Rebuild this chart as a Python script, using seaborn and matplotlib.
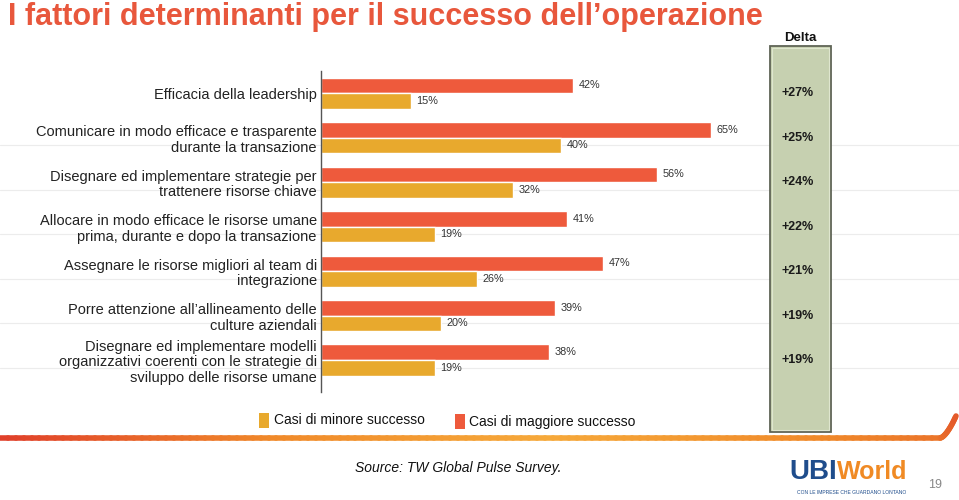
import numpy as np
import pandas as pd
import matplotlib
matplotlib.use("Agg")
import matplotlib.pyplot as plt
import matplotlib.transforms as mtransforms
from matplotlib.patches import Rectangle
from matplotlib.collections import LineCollection
import seaborn as sns

# Chart data
fattori = [
    "Efficacia della leadership",
    "Comunicare in modo efficace e trasparente\ndurante la transazione",
    "Disegnare ed implementare strategie per\ntrattenere risorse chiave",
    "Allocare in modo efficace le risorse umane\nprima, durante e dopo la transazione",
    "Assegnare le risorse migliori al team di\nintegrazione",
    "Porre attenzione all\u2019allineamento delle\nculture aziendali",
    "Disegnare ed implementare modelli\norganizzativi coerenti con le strategie di\nsviluppo delle risorse umane",
]
minore = [15, 40, 32, 19, 26, 20, 19]
maggiore = [42, 65, 56, 41, 47, 39, 38]
delta = [27, 25, 24, 22, 21, 19, 19]

lab_minore = "Casi di minore successo"
lab_maggiore = "Casi di maggiore successo"

RED = "#ee5a3c"
YELLOW = "#e8a92d"

sns.set_style("white")
plt.rcParams["font.family"] = ["Liberation Sans", "DejaVu Sans"]

# Long-form table for seaborn
df = pd.DataFrame({
    "fattore": fattori * 2,
    "valore": maggiore + minore,
    "gruppo": [lab_maggiore] * len(fattori) + [lab_minore] * len(fattori),
})

W, H = 959, 500
fig = plt.figure(figsize=(W / 100, H / 100), dpi=100)

def px(x0, y0, x1, y1):
    # pixel box (top-left origin) -> figure fraction rect
    return [x0 / W, 1 - y1 / H, (x1 - x0) / W, (y1 - y0) / H]

ax = fig.add_axes(px(321, 71, 959, 392))

sns.barplot(data=df, y="fattore", x="valore", hue="gruppo",
            hue_order=[lab_maggiore, lab_minore],
            palette=[RED, YELLOW], orient="h", width=0.7,
            saturation=1, legend=False, ax=ax, zorder=3)

for cont in ax.containers:
    ax.bar_label(cont, fmt="%d%%", padding=4, fontsize=7.8, color="#333333")

ax.set_xlim(0, 106.3)
ax.set_ylim(6.72, -0.5)
ax.set_xlabel("")
ax.set_ylabel("")
ax.set_xticks([])
ax.tick_params(axis="y", length=0, pad=3, labelsize=10.5, labelcolor="#222222")
for lbl in ax.get_yticklabels():
    lbl.set_linespacing(1.15)
for s in ["top", "right", "bottom"]:
    ax.spines[s].set_visible(False)
ax.spines["left"].set_color("#555555")
ax.spines["left"].set_linewidth(1.0)
ax.spines["left"].set_zorder(5)

# light row separators running across the whole slide
left_ext = -321 / 638
for i in range(1, len(fattori)):
    ax.axhline(i + 0.175, xmin=left_ext, xmax=1, color="#ececec",
               lw=0.8, zorder=0, clip_on=False)

# Delta column
fig.patches.append(Rectangle((770 / W, 1 - 432 / H), 61 / W, 386 / H,
                             transform=fig.transFigure, facecolor="#c6d0b0",
                             edgecolor="#5f6456", lw=1.3, zorder=5))
fig.patches.append(Rectangle((772 / W, 1 - 430 / H), 57 / W, 382 / H,
                             transform=fig.transFigure, facecolor="none",
                             edgecolor="#dfe6cf", lw=0.8, zorder=5))
fig.text(800 / W, 1 - 38 / H, "Delta", ha="center", va="center",
         fontsize=9.5, fontweight="bold", color="#111111", zorder=6)
tr = mtransforms.blended_transform_factory(fig.transFigure, ax.transData)
for i, d in enumerate(delta):
    fig.text(798 / W, i, f"+{d}%", transform=tr, ha="center", va="center",
             fontsize=9, fontweight="bold", color="#1a1a1a", zorder=7)

# Title
fig.text(8 / W, 1 - 17 / H, "I fattori determinanti per il successo dell\u2019operazione",
         ha="left", va="center", fontsize=22, fontweight="bold", color="#e8573c")

# Legend
fig.patches.append(Rectangle((259 / W, 1 - 428 / H), 10 / W, 15 / H,
                             transform=fig.transFigure, facecolor=YELLOW, lw=0))
fig.text(274 / W, 1 - 420 / H, lab_minore, ha="left", va="center",
         fontsize=10, color="#111111")
fig.patches.append(Rectangle((455 / W, 1 - 429 / H), 10 / W, 15 / H,
                             transform=fig.transFigure, facecolor=RED, lw=0))
fig.text(469 / W, 1 - 422 / H, lab_maggiore, ha="left", va="center",
         fontsize=10, color="#111111")

# orange swoosh at the bottom
t = np.linspace(0, 1, 120)
xs = 0 + 940 * t
ys = np.full_like(t, 438.0)
tail = np.linspace(0, 1, 20)
xs = np.concatenate([xs, 940 + 16 * tail])
ys = np.concatenate([ys, 438 - 22 * tail ** 1.6])
pts = np.column_stack([xs / W, 1 - ys / H]).reshape(-1, 1, 2)
segs = np.concatenate([pts[:-1], pts[1:]], axis=1)
cmap = matplotlib.colors.LinearSegmentedColormap.from_list(
    "sw", ["#e0402a", "#f08a2a", "#f6a93a", "#f08a2a", "#e45a2a"])
lc = LineCollection(segs, cmap=cmap, linewidths=4, transform=fig.transFigure,
                    capstyle="round")
lc.set_array(np.linspace(0, 1, len(segs)))
fig.add_artist(lc)

# Source and logo
fig.text(355 / W, 1 - 468 / H, "Source: TW Global Pulse Survey.", ha="left",
         va="center", fontsize=10, style="italic", color="#111111")
fig.text(789 / W, 1 - 472 / H, "UBI", ha="left", va="center", fontsize=20,
         fontweight="bold", color="#1f4d8c")
fig.text(837 / W, 1 - 472 / H, "World", ha="left", va="center", fontsize=18,
         fontweight="bold", color="#f08a24")
fig.text(852 / W, 1 - 492 / H, "CON LE IMPRESE CHE GUARDANO LONTANO",
         ha="center", va="center", fontsize=3.6, color="#1f4d8c")
fig.text(935 / W, 1 - 485 / H, "19", ha="center", va="center", fontsize=9,
         color="#888888")

fig.savefig("out.png", dpi=100)
